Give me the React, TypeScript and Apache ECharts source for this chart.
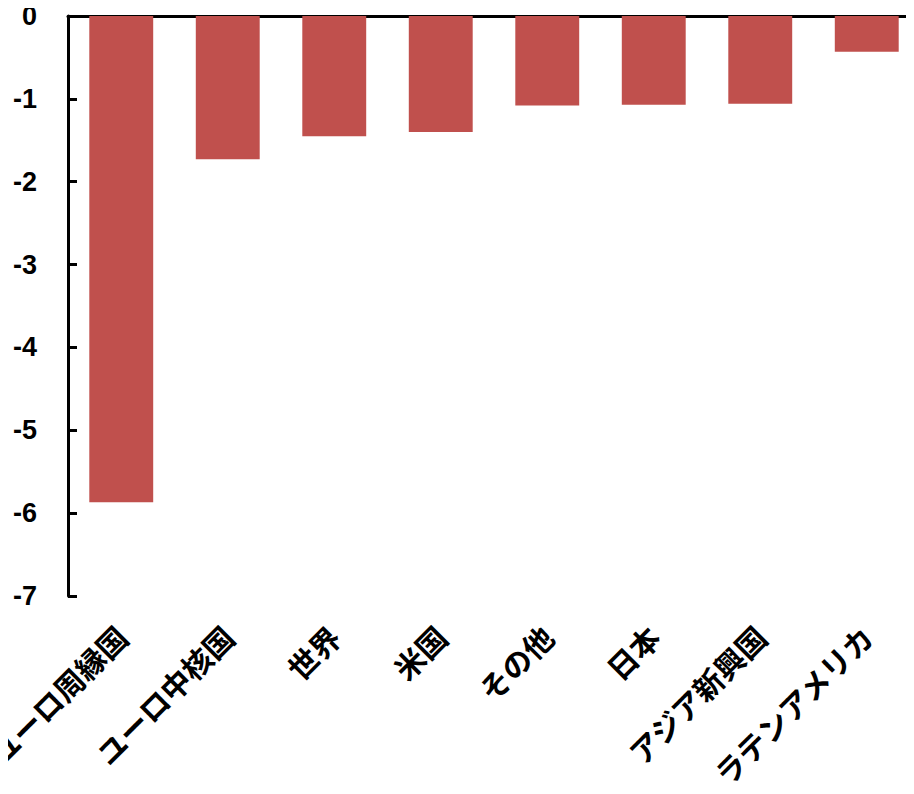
import React, { useEffect, useRef } from "react";
import * as echarts from "echarts";

const categories = ["ユーロ周縁国", "ユーロ中核国", "世界", "米国", "その他", "日本", "アジア新興国", "ラテンアメリカ"];
const values = [-5.87, -1.73, -1.45, -1.4, -1.08, -1.07, -1.06, -0.43];
const yMin = -7;
const yMax = 0;
const yInterval = 1;

export default function App() {
  const ref = useRef<HTMLDivElement>(null);
  useEffect(() => {
    if (!ref.current) return;
    const chart = echarts.init(ref.current, null, { renderer: "svg" });
    chart.setOption({
      animation: false,
      backgroundColor: "#ffffff",
      grid: { left: 60, top: 8, bottom: 190, right: -14, containLabel: false, outerBoundsMode: "none" },
      xAxis: [
        {
          type: "category",
          data: categories,
          position: "bottom",
          axisLine: { show: false, onZero: false },
          axisTick: { show: false },
          axisLabel: {
            rotate: 45,
            margin: 35,
            interval: 0,
            color: "#000",
            fontSize: 30,
            fontWeight: "bold",
            fontFamily: "Noto Sans CJK JP",
          },
        },
        {
          type: "category",
          data: categories,
          position: "top",
          axisLine: { show: true, onZero: false, lineStyle: { color: "#000", width: 3 } },
          axisTick: { show: false },
          axisLabel: { show: false },
        },
      ],
      yAxis: {
        type: "value",
        min: yMin,
        max: yMax,
        interval: yInterval,
        axisLine: { show: true, lineStyle: { color: "#000", width: 3 } },
        axisTick: { show: true, inside: true, length: 9, lineStyle: { color: "#000", width: 3 } },
        splitLine: { show: false },
        axisLabel: {
          margin: 31,
          color: "#000",
          fontSize: 27,
          fontWeight: "bold",
          fontFamily: "Liberation Sans",
        },
      },
      series: [
        {
          type: "bar",
          data: values,
          xAxisIndex: 0,
          barCategoryGap: "40%",
          itemStyle: { color: "#C0504D" },
        },
      ],
    });
    return () => chart.dispose();
  }, []);
  return <div ref={ref} style={{ width: 898, height: 778 }} />;
}
